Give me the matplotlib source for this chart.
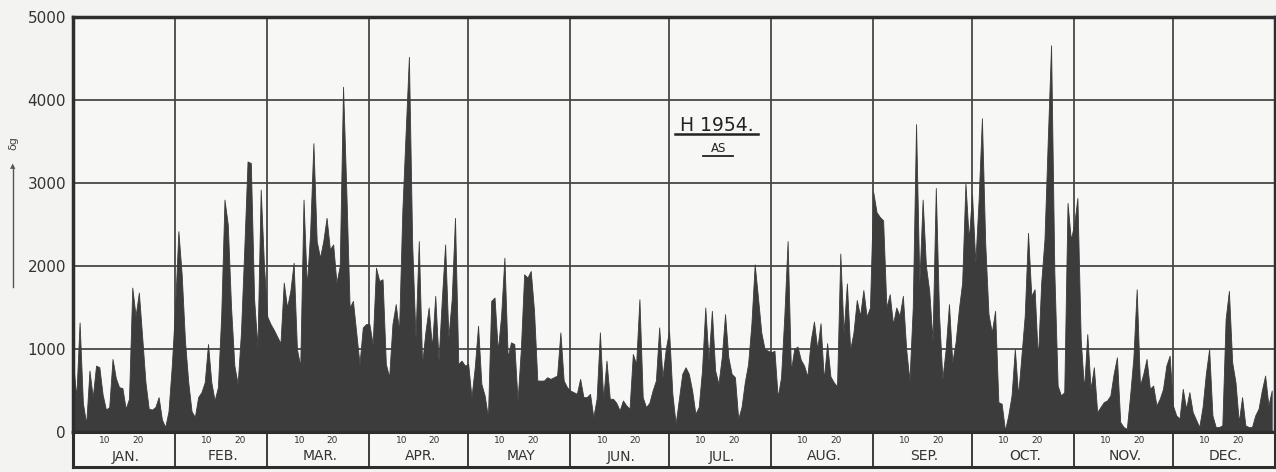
import numpy as np
import matplotlib.pyplot as plt
from matplotlib.lines import Line2D

months = ['JAN.', 'FEB.', 'MAR.', 'APR.', 'MAY', 'JUN.',
          'JUL.', 'AUG.', 'SEP.', 'OCT.', 'NOV.', 'DEC.']
month_days = [31, 28, 31, 30, 31, 30, 31, 31, 30, 31, 30, 31]
y_ticks = [0, 1000, 2000, 3000, 4000, 5000]

# daily values
jan = [850, 420, 1320, 350, 100, 740, 420, 800, 780, 450, 270, 300, 880, 650, 540, 530,
       280, 400, 1740, 1400, 1680, 1150, 600, 280, 270, 300, 420, 150, 60, 250, 800]
feb = [1500, 2420, 1900, 1100, 600, 250, 180, 420, 480, 600, 1060, 600, 380, 540, 1400,
       2800, 2500, 1500, 800, 580, 1200, 2200, 3260, 3240, 1600, 1020, 2920, 2000]
mar = [1390, 1300, 1230, 1150, 1070, 1800, 1500, 1700, 2040, 1000, 790, 2800, 1750, 2400,
       3480, 2300, 2100, 2300, 2580, 2200, 2260, 1800, 2000, 4160, 2900, 1500, 1580, 1200,
       820, 1260, 1300]
apr = [1300, 1060, 1980, 1820, 1840, 820, 660, 1300, 1540, 1220, 2660, 3600, 4520, 2260,
       1140, 2300, 820, 1200, 1500, 1020, 1640, 860, 1600, 2260, 1140, 1600, 2580, 820, 860, 800]
may = [820, 420, 780, 1280, 580, 440, 180, 1580, 1620, 980, 1400, 2100, 900, 1080, 1060,
       380, 1000, 1900, 1860, 1940, 1460, 620, 620, 620, 660, 640, 660, 680, 1200, 620, 540]
jun = [500, 480, 460, 640, 420, 420, 460, 180, 400, 1200, 400, 860, 400, 400, 350, 260,
       380, 320, 280, 940, 820, 1600, 420, 300, 350, 500, 620, 1260, 660, 1000]
jul = [1220, 460, 100, 400, 700, 780, 700, 500, 220, 300, 740, 1500, 860, 1460, 740, 580,
       900, 1420, 900, 700, 660, 160, 300, 600, 820, 1300, 2020, 1620, 1200, 1000, 980]
aug = [960, 980, 420, 660, 1400, 2300, 740, 1000, 1030, 870, 800, 670, 1100, 1330, 1000,
       1310, 630, 1070, 670, 600, 550, 2150, 1190, 1790, 990, 1200, 1590, 1400, 1710, 1390, 1500]
sep = [2890, 2650, 2590, 2550, 1500, 1660, 1300, 1500, 1400, 1640, 1000, 620, 1500, 3710,
       1800, 2800, 2000, 1700, 1100, 2940, 1400, 640, 1000, 1540, 840, 1080, 1480, 1800, 3000, 2320]
oct_ = [2860, 2040, 2800, 3780, 2280, 1420, 1200, 1460, 360, 340, 20, 200, 440, 1000, 440,
        920, 1400, 2400, 1640, 1720, 880, 1800, 2320, 3520, 4660, 1920, 560, 440, 480, 2760, 2320]
nov = [2500, 2820, 1120, 520, 1180, 520, 780, 240, 300, 360, 380, 440, 700, 900, 120, 60,
       40, 440, 900, 1720, 560, 700, 880, 520, 560, 320, 400, 520, 800, 920]
dec = [320, 200, 160, 520, 280, 480, 240, 150, 60, 300, 700, 1000, 200, 60, 60, 80, 1360,
       1700, 840, 600, 120, 420, 80, 60, 60, 200, 280, 500, 680, 320, 500]

values = np.array(jan + feb + mar + apr + may + jun + jul + aug + sep + oct_ + nov + dec)
days = np.arange(len(values))
starts = np.concatenate([[0], np.cumsum(month_days)])

W, H = 1276, 472
fig = plt.figure(figsize=(W / 100, H / 100), dpi=100, facecolor='#f3f3f1')
ink = '#2e2e2e'

ax = fig.add_axes([73 / W, 40 / H, 1202 / W, 415 / H])
ax.set_facecolor('#f7f7f5')
ax.set_xlim(0, 365)
ax.set_ylim(0, 5000)
for y in y_ticks[1:-1]:
    ax.axhline(y, color='#474747', lw=1.3, zorder=1)
for s in starts[1:-1]:
    ax.axvline(s, color='#474747', lw=1.3, zorder=1)
ax.fill_between(days, values, 0, facecolor='#3c3c3c', edgecolor='#3c3c3c', lw=0.6, zorder=3)

ax.set_xticks([])
ax.set_yticks(y_ticks)
ax.set_yticklabels([str(v) for v in y_ticks], fontsize=11, color='#333333')
ax.tick_params(axis='y', length=0, pad=5)
for sp in ax.spines.values():
    sp.set_linewidth(2.5)
    sp.set_color(ink)
    sp.set_zorder(5)

# month band under the chart
bx = fig.add_axes([73 / W, 5 / H, 1202 / W, 35 / H])
bx.set_facecolor('#f7f7f5')
bx.set_xlim(0, 365)
bx.set_ylim(0, 1)
bx.set_xticks([])
bx.set_yticks([])
for s in starts[1:-1]:
    bx.axvline(s, color=ink, lw=1.3)
for sp in bx.spines.values():
    sp.set_linewidth(2.2)
    sp.set_color(ink)
for i, m in enumerate(months):
    s = starts[i]
    bx.text(s + 9.7, 0.77, '10', fontsize=6.5, ha='center', va='center', color='#333333')
    bx.text(s + 19.7, 0.77, '20', fontsize=6.5, ha='center', va='center', color='#333333')
    bx.text(s + month_days[i] / 2 + 0.5, 0.3, m, fontsize=10, ha='center', va='center',
            color='#333333')

# title and subtitle with underline
fig.text(717 / W, 1 - 125 / H, 'H 1954.', fontsize=13.5, ha='center', va='center', color='#222222')
fig.add_artist(Line2D([675 / W, 758 / W], [1 - 134 / H, 1 - 134 / H], color='#222222', lw=1.8))
fig.text(719 / W, 1 - 148.5 / H, 'AS', fontsize=8.5, ha='center', va='center', color='#222222')
fig.add_artist(Line2D([703 / W, 733 / W], [1 - 156 / H, 1 - 156 / H], color='#222222', lw=1.3))

# axis quantity and upward arrow
fig.text(13 / W, 1 - 143 / H, 'δg', fontsize=8, rotation=90, ha='center', va='center', color='#444444')
fig.add_artist(Line2D([13 / W, 13 / W], [1 - 287 / H, 1 - 168 / H], color='#555555', lw=1.0))
fig.text(13 / W, 1 - 166 / H, '▲', fontsize=5, ha='center', va='center', color='#555555')

fig.savefig('out.png', dpi=100, facecolor=fig.get_facecolor())
